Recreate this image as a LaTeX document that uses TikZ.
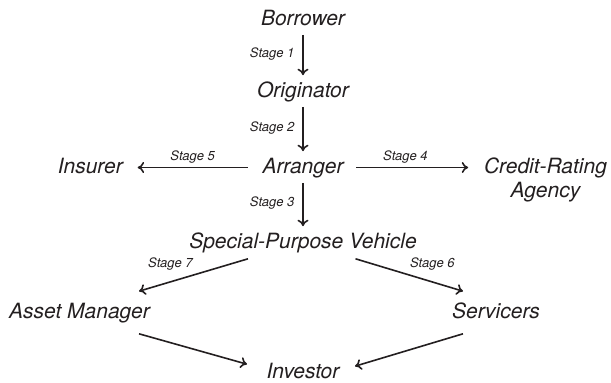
\documentclass[tikz,border=0pt]{standalone}
\usepackage{fontspec}
\setmainfont{TeX Gyre Heros}
\usetikzlibrary{positioning,arrows.meta}
\definecolor{ink}{HTML}{231F20}

\begin{document}
\begin{tikzpicture}[x=1pt,y=-1pt,>={To[length=6.5pt,width=11pt]},line width=1.6pt,draw=ink,text=ink,
    party/.style={font=\fontsize{21}{24}\selectfont\itshape,inner sep=0pt,text height=15pt,text depth=4pt,anchor=base},
    stage/.style={font=\fontsize{13}{15}\selectfont\itshape},
    flow/.style={->,shorten <=5pt,shorten >=6pt}]
    \useasboundingbox (0,0) rectangle (611,383);
    % who takes part
    \node[party] (borrower) at (303,25) {Borrower};
    \node[party] (originator) at (303,97) {Originator};
    \node[party] (arranger) at (303,173) {Arranger};
    \node[party] (insurer) at (90.3,173) {Insurer};
    \node[font=\fontsize{21}{24}\selectfont\itshape,align=center,inner sep=0pt] (rating) at (545.5,179.5) {Credit-Rating\\Agency};
    \node[party] (spv) at (303,248) {Special-Purpose Vehicle};
    \node[party] (assetmgr) at (79.5,318) {Asset Manager};
    \node[party] (servicers) at (496,318) {Servicers};
    \node[party] (investor) at (303,378) {Investor};

    % Borrower -> Originator -> Arranger -> SPV
    \draw[flow] (borrower) -- (originator) node[stage,pos=0.47,left=4.5pt] {Stage 1};
    \draw[flow] (originator) -- (arranger) node[stage,pos=0.47,left=4.5pt] {Stage 2};
    \draw[flow] (arranger) -- (spv) node[stage,pos=0.47,left=4.5pt] {Stage 3};

    % Arranger -> Insurer, Credit-Rating Agency
    \draw[->,shorten <=14pt,shorten >=14pt] (arranger) -- (insurer) node[stage,midway,above] {Stage 5};
    \draw[->,shorten <=12pt,shorten >=15pt] (arranger) -- (arranger -| rating.west) node[stage,pos=0.44,above] {Stage 4};

    % SPV -> Asset Manager, Servicers -> Investor
    \draw[->] ([shift={(-55,6)}]spv.south) -- ([shift={(59.5,-11)}]assetmgr.north) node[stage,pos=0.47,above left] {Stage 7};
    \draw[->] ([shift={(52.5,6)}]spv.south) -- ([shift={(-33,-11)}]servicers.north) node[stage,pos=0.47,above right] {Stage 6};
    \draw[->] ([shift={(59.5,11)}]assetmgr.south) -- ([shift={(-56,2)}]investor.north);
    \draw[->] ([shift={(-33,11)}]servicers.south) -- ([shift={(52,4)}]investor.north);
\end{tikzpicture}
\end{document}
